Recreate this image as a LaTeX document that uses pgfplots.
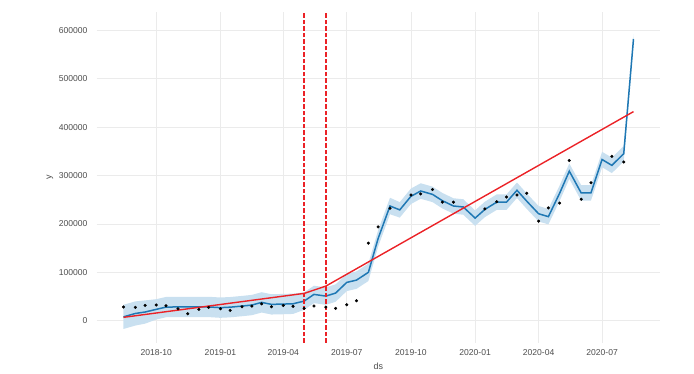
\documentclass[border=0pt]{standalone}
\usepackage{pgfplots}
\pgfplotsset{compat=1.18}
\usepackage{pgfplotstable}
\usepgfplotslibrary{fillbetween}
\usepackage{fontspec}
\setmainfont{Liberation Sans}
\definecolor{fcblue}{HTML}{1F78B4}
\definecolor{bandblue}{HTML}{C9E0F0}
\definecolor{gridgray}{HTML}{EBEBEB}
\definecolor{ticktext}{HTML}{4D4D4D}
\definecolor{trendred}{HTML}{EB2227}

\pgfplotstableread{
d y
-47 28200
-30 27600
-16 31700
0 32400
14 31000
31 24700
45 14400
61 23500
75 27600
92 24700
106 21400
123 28900
137 30300
151 35000
165 28900
182 31700
196 29700
212 25500
226 30300
243 28200
257 25500
273 33000
287 41200
304 160200
318 193800
335 232400
365 259800
379 262000
396 271000
410 245000
426 245000
471 231000
488 246000
502 255700
517 259800
531 263300
548 205600
562 233000
578 243000
592 331000
609 251000
623 285000
653 339600
670 328000
}\obs

\pgfplotstableread{
d yhat lower upper
-47 8000 -17000 33000
-30 15000 -10000 40000
-16 18000 -6000 42000
0 23500 2500 44500
14 28200 7200 49200
31 28500 7500 49500
45 28500 7500 49500
61 28500 7500 49500
75 28500 7500 49500
92 27000 6000 48000
106 28000 7000 49000
123 30300 9300 51300
137 32400 11400 53400
151 37900 16900 58900
165 33800 12800 54800
182 34400 13400 55400
196 35000 14000 56000
212 40600 22600 58600
226 54400 36400 72400
243 50900 32900 68900
257 57100 39100 75100
273 79200 61200 97200
287 83900 65900 101900
304 100000 82000 118000
318 170000 153000 187000
335 237000 220000 254000
349 229000 213000 245000
365 257000 241000 273000
379 268000 252000 284000
396 261000 245000 277000
410 248000 232000 264000
426 237000 221000 253000
440 235000 219000 251000
457 212000 196000 228000
471 230000 214000 246000
488 245000 229000 261000
502 245000 229000 261000
517 269500 253500 285500
531 247000 231000 263000
548 221000 205000 237000
562 215000 199000 231000
578 263000 247000 279000
592 309000 293000 325000
609 264000 248000 280000
623 264000 248000 280000
639 333000 317000 349000
653 321000 305000 337000
670 345000 329000 361000
684 582000 572000 592000
}\fcst

\pgfplotstableread{
d trend
-47 7000
212 56500
243 71500
684 432000
}\trend

\begin{document}
\begin{tikzpicture}
\begin{axis}[
  at={(96.7bp,28bp)}, anchor=south west,
  scale only axis, width=563.3bp, height=331.3bp,
  xmin=-85.4, xmax=722, ymin=-46000, ymax=638400,
  axis line style={draw=none},
  major tick length=0pt,
  xtick={0,92,182,273,365,457,548,639},
  xticklabels={2018-10,2019-01,2019-04,2019-07,2019-10,2020-01,2020-04,2020-07},
  ytick={0,100000,200000,300000,400000,500000,600000},
  yticklabels={0,100000,200000,300000,400000,500000,600000},
  scaled y ticks=false,
  grid=major,
  major grid style={gridgray, line width=0.8bp},
  tick label style={font=\fontsize{8.6}{10}\selectfont, text=ticktext, inner sep=0pt},
  yticklabel style={xshift=-9bp},
  xticklabel style={yshift=-6.5bp},
  xlabel={ds}, ylabel={y},
  label style={font=\fontsize{9}{10}\selectfont, text=ticktext},
  xlabel style={at={(axis description cs:0.5,-0.0715)}, anchor=center},
  ylabel style={at={(axis description cs:-0.0829,0.5)}, anchor=center},
  clip=true,
]
\addplot[name path=U, draw=none, forget plot] table[x=d, y=upper] {\fcst};
\addplot[name path=L, draw=none, forget plot] table[x=d, y=lower] {\fcst};
\addplot[fill=bandblue, draw=none, forget plot] fill between[of=U and L];
\addplot[only marks, mark=*, mark size=1.35bp, black] table[x=d, y=y] {\obs};
\addplot[fcblue, line width=1.5bp] table[x=d, y=yhat] {\fcst};
\addplot[trendred, line width=1.4bp] table[x=d, y=trend] {\trend};
\addplot[trendred, line width=1.4bp, dash pattern=on 4.5bp off 2bp] coordinates {(212,-46000) (212,638400)};
\addplot[trendred, line width=1.4bp, dash pattern=on 4.5bp off 2bp] coordinates {(243,-46000) (243,638400)};
\end{axis}
\path (0,0) rectangle (694bp,371bp);
\end{tikzpicture}
\end{document}
